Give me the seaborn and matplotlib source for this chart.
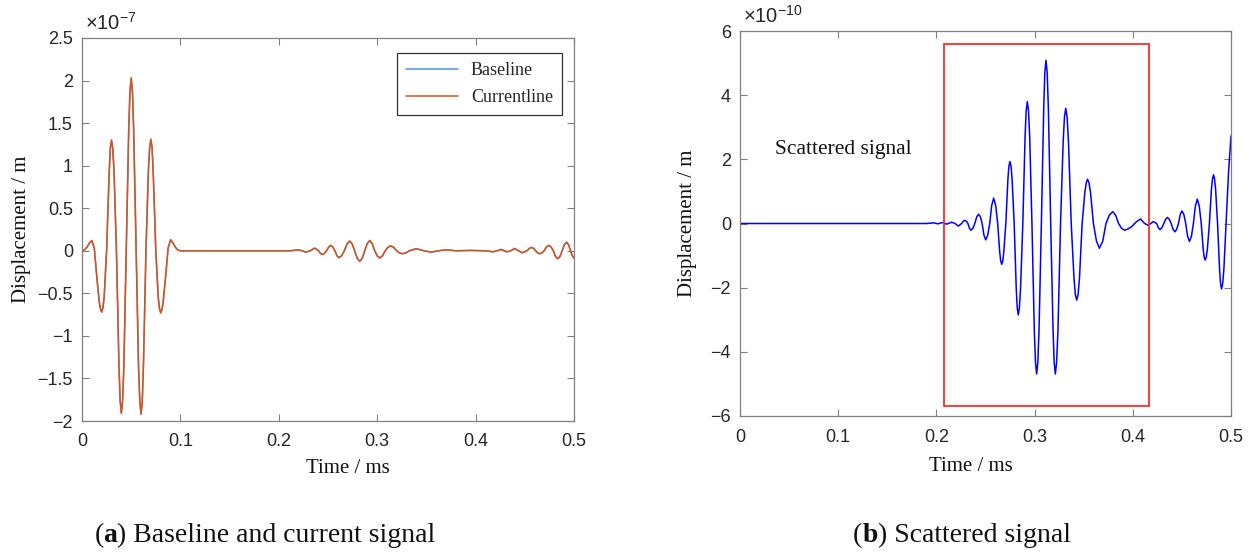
import matplotlib
matplotlib.use("Agg")
import matplotlib.pyplot as plt
import numpy as np
import pandas as pd
import seaborn as sns
from matplotlib.patches import Rectangle
from matplotlib.ticker import FuncFormatter, MultipleLocator

# ---------------------------------------------------------------------------
# Panel (a): (time [ms], baseline, currentline), displacement in 1e-7 m
# ---------------------------------------------------------------------------
signal_a = [
    # excitation tone burst
    (0.0000, 0.00, 0.00), (0.0025, 0.01, 0.01), (0.0050, 0.04, 0.04),
    (0.0075, 0.09, 0.09), (0.0100, 0.12, 0.12), (0.0125, 0.03, 0.03),
    (0.0150, -0.30, -0.30), (0.0175, -0.60, -0.60), (0.01875, -0.68, -0.68),
    (0.0200, -0.72, -0.72), (0.02125, -0.67, -0.67), (0.0225, -0.55, -0.55),
    (0.0250, 0.00, 0.00), (0.0275, 0.88, 0.88), (0.02875, 1.20, 1.20),
    (0.0300, 1.30, 1.30), (0.03125, 1.20, 1.20), (0.0325, 0.95, 0.95),
    (0.0350, 0.00, 0.00), (0.0375, -1.32, -1.32), (0.03875, -1.76, -1.76),
    (0.0400, -1.91, -1.91), (0.04125, -1.76, -1.76), (0.0425, -1.38, -1.38),
    (0.0450, 0.00, 0.00), (0.0475, 1.43, 1.43), (0.04875, 1.87, 1.87),
    (0.0500, 2.03, 2.03), (0.05125, 1.87, 1.87), (0.0525, 1.43, 1.43),
    (0.0550, 0.00, 0.00), (0.0575, -1.38, -1.38), (0.05875, -1.77, -1.77),
    (0.0600, -1.92, -1.92), (0.06125, -1.77, -1.77), (0.0625, -1.32, -1.32),
    (0.0650, 0.00, 0.00), (0.0675, 0.95, 0.95), (0.06875, 1.21, 1.21),
    (0.0700, 1.31, 1.31), (0.07125, 1.21, 1.21), (0.0725, 0.88, 0.88),
    (0.0750, 0.00, 0.00), (0.0775, -0.55, -0.55), (0.07875, -0.68, -0.68),
    (0.0800, -0.73, -0.73), (0.08125, -0.69, -0.69), (0.0825, -0.60, -0.60),
    (0.0850, -0.30, -0.30), (0.0875, 0.03, 0.03), (0.0900, 0.13, 0.13),
    (0.0925, 0.09, 0.09), (0.0950, 0.04, 0.04), (0.0975, 0.01, 0.01),
    (0.1000, 0.00, 0.00),
    # quiet interval and boundary reflections
    (0.2000, 0.000, 0.000), (0.2120, 0.000, 0.000), (0.2196, 0.012, 0.012),
    (0.2235, 0.000, 0.000), (0.2274, -0.016, -0.016), (0.2320, 0.000, 0.000),
    (0.2365, 0.031, 0.031), (0.2404, 0.000, 0.000), (0.2424, -0.030, -0.030),
    (0.2443, -0.043, -0.043), (0.2464, -0.030, -0.030), (0.2485, 0.000, 0.000),
    (0.2507, 0.044, 0.044), (0.2528, 0.063, 0.063), (0.2549, 0.044, 0.044),
    (0.2570, 0.000, 0.000), (0.2591, -0.058, -0.058), (0.2612, -0.082, -0.082),
    (0.2639, -0.058, -0.058), (0.2666, 0.000, 0.000), (0.2694, 0.080, 0.080),
    (0.2721, 0.114, 0.114), (0.2746, 0.080, 0.080), (0.2771, 0.000, 0.000),
    (0.2797, -0.088, -0.088), (0.2822, -0.125, -0.125), (0.2848, -0.088, -0.088),
    (0.2873, 0.000, 0.000), (0.2899, 0.083, 0.086), (0.2924, 0.118, 0.122),
    (0.2949, 0.083, 0.086), (0.2975, 0.000, 0.000), (0.3000, -0.058, -0.061),
    (0.3025, -0.082, -0.086), (0.3053, -0.058, -0.061), (0.3081, 0.000, 0.000),
    (0.3109, 0.039, 0.042), (0.3137, 0.055, 0.059), (0.3167, 0.039, 0.042),
    (0.3197, 0.000, 0.000), (0.3226, -0.025, -0.025), (0.3256, -0.035, -0.035),
    (0.3291, -0.025, -0.025), (0.3327, 0.000, 0.000), (0.3398, 0.024, 0.024),
    (0.3474, 0.000, 0.000), (0.3550, -0.016, -0.016), (0.3626, 0.000, 0.000),
    (0.3702, 0.012, 0.012), (0.3800, 0.000, 0.000), (0.3950, 0.004, 0.004),
    (0.4100, 0.000, 0.000), (0.4176, -0.012, -0.012), (0.4218, 0.000, 0.000),
    (0.4260, 0.016, 0.016), (0.4290, 0.000, 0.000), (0.4318, -0.012, -0.012),
    (0.4357, 0.000, 0.000), (0.4396, 0.027, 0.027), (0.4435, 0.000, 0.000),
    (0.4474, -0.024, -0.024), (0.4522, 0.000, 0.000), (0.4546, 0.028, 0.028),
    (0.4570, 0.040, 0.040), (0.4590, 0.028, 0.028), (0.4610, 0.000, 0.000),
    (0.4630, -0.025, -0.025), (0.4650, -0.035, -0.035), (0.4674, -0.025, -0.025),
    (0.4697, 0.000, 0.000), (0.4720, 0.045, 0.045), (0.4744, 0.063, 0.063),
    (0.4767, 0.045, 0.045), (0.4790, 0.000, 0.000), (0.4812, -0.067, -0.067),
    (0.4835, -0.094, -0.094), (0.4858, -0.067, -0.067), (0.4880, 0.000, 0.000),
    (0.4902, 0.071, 0.071), (0.4925, 0.100, 0.100), (0.4945, 0.071, 0.071),
    (0.4965, 0.000, 0.000), (0.4983, -0.060, -0.060), (0.5000, -0.085, -0.085),
]

# ---------------------------------------------------------------------------
# Panel (b): (time [ms], scattered displacement in 1e-10 m)
# ---------------------------------------------------------------------------
signal_b = [
    (0.0000, 0.00), (0.1900, 0.00), (0.1975, 0.02), (0.2015, -0.01),
    (0.2060, 0.03), (0.2105, -0.02), (0.2155, 0.04), (0.2190, 0.00),
    (0.2223, -0.08), (0.2257, 0.00), (0.2273, 0.07), (0.2290, 0.10),
    (0.2306, 0.07), (0.2321, 0.00), (0.2337, -0.15), (0.2352, -0.21),
    (0.2372, -0.15), (0.2391, 0.00), (0.2411, 0.21), (0.2430, 0.29),
    (0.2448, 0.21), (0.2466, 0.00), (0.2484, -0.36), (0.2502, -0.51),
    (0.2523, -0.36), (0.2543, 0.00), (0.2563, 0.56), (0.2583, 0.79),
    (0.2604, 0.56), (0.2624, 0.00), (0.2645, -0.90), (0.2655, -1.17),
    (0.2665, -1.27), (0.2676, -1.17), (0.2686, -0.90), (0.2707, 0.00),
    (0.2728, 1.37), (0.2738, 1.78), (0.2749, 1.93), (0.2760, 1.78),
    (0.2771, 1.37), (0.2792, 0.00), (0.2813, -2.02), (0.2823, -2.63),
    (0.2834, -2.85), (0.2845, -2.63), (0.2857, -2.02), (0.2880, 0.00),
    (0.2903, 2.70), (0.2914, 3.51), (0.2926, 3.80), (0.2938, 3.51),
    (0.2950, 2.70), (0.2973, 0.00), (0.2997, -3.33), (0.3009, -4.33),
    (0.3021, -4.69), (0.3033, -4.33), (0.3045, -3.33), (0.3069, 0.00),
    (0.3093, 3.61), (0.3104, 4.70), (0.3116, 5.09), (0.3128, 4.70),
    (0.3140, 3.61), (0.3164, 0.00), (0.3188, -3.33), (0.3199, -4.33),
    (0.3211, -4.69), (0.3224, -4.33), (0.3238, -3.33), (0.3264, 0.00),
    (0.3291, 2.55), (0.3304, 3.32), (0.3317, 3.59), (0.3331, 3.32),
    (0.3345, 2.55), (0.3373, 0.00), (0.3401, -1.70), (0.3415, -2.21),
    (0.3429, -2.39), (0.3443, -2.21), (0.3457, -1.70), (0.3484, 0.00),
    (0.3512, 0.98), (0.3526, 1.27), (0.3539, 1.38), (0.3554, 1.27),
    (0.3569, 0.98), (0.3599, 0.00), (0.3630, -0.55), (0.3660, -0.77),
    (0.3694, -0.55), (0.3727, 0.00), (0.3761, 0.26), (0.3795, 0.37),
    (0.3825, 0.26), (0.3855, 0.00), (0.3886, -0.15), (0.3916, -0.21),
    (0.3950, -0.17), (0.3988, -0.10), (0.4035, 0.05), (0.4080, 0.14),
    (0.4120, 0.00), (0.4158, -0.06), (0.4182, 0.00), (0.4210, 0.06),
    (0.4243, 0.00), (0.4260, -0.13), (0.4277, -0.19), (0.4297, -0.13),
    (0.4316, 0.00), (0.4334, 0.13), (0.4352, 0.19), (0.4372, 0.13),
    (0.4391, 0.00), (0.4410, -0.18), (0.4429, -0.26), (0.4447, -0.18),
    (0.4465, 0.00), (0.4483, 0.28), (0.4501, 0.39), (0.4520, 0.28),
    (0.4539, 0.00), (0.4558, -0.40), (0.4577, -0.56), (0.4597, -0.40),
    (0.4617, 0.00), (0.4637, 0.54), (0.4657, 0.76), (0.4677, 0.54),
    (0.4697, 0.00), (0.4717, -0.81), (0.4727, -1.05), (0.4737, -1.14),
    (0.4748, -1.05), (0.4759, -0.81), (0.4780, 0.00), (0.4801, 1.08),
    (0.4812, 1.40), (0.4822, 1.52), (0.4832, 1.40), (0.4843, 1.08),
    (0.4863, 0.00), (0.4884, -1.45), (0.4894, -1.88), (0.4904, -2.04),
    (0.4915, -1.88), (0.4927, -1.45), (0.4950, 0.00), (0.4975, 1.60),
    (0.5000, 2.73),
]

series_names = ["Baseline", "Currentline"]
panel_captions = ["Baseline and current signal", "Scattered signal"]

# ---------------------------------------------------------------------------
# Styling
# ---------------------------------------------------------------------------
sns.set_theme(style="ticks")
SANS = ["Liberation Sans", "DejaVu Sans"]
SERIF = ["Liberation Serif", "DejaVu Serif"]
plt.rcParams.update({
    "font.family": SANS,
    "mathtext.fontset": "custom",
    "mathtext.rm": "Liberation Sans",
    "mathtext.it": "Liberation Sans:italic",
    "mathtext.bf": "Liberation Sans:bold",
    "axes.edgecolor": "#808080",
    "axes.linewidth": 0.9,
    "xtick.direction": "in",
    "ytick.direction": "in",
    "xtick.color": "#808080",
    "ytick.color": "#808080",
    "xtick.labelcolor": "#262626",
    "ytick.labelcolor": "#262626",
    "xtick.major.size": 5,
    "ytick.major.size": 5,
    "xtick.major.width": 0.8,
    "ytick.major.width": 0.8,
    "xtick.labelsize": 13,
    "ytick.labelsize": 13,
})

W, H = 1254, 552
fig = plt.figure(figsize=(W / 100, H / 100), dpi=100)
fig.patch.set_facecolor("white")


def box(l, t, r, b):
    return [l / W, 1 - b / H, (r - l) / W, (b - t) / H]


ax_a = fig.add_axes(box(82, 38, 574, 421))
ax_b = fig.add_axes(box(740, 31, 1231, 416))


def tick_fmt(v, pos):
    if abs(v) < 1e-12:
        return "0"
    return f"{v:g}".replace("-", "\u2212")


def style_axes(ax, ystep, exponent):
    ax.xaxis.set_major_locator(MultipleLocator(0.1))
    ax.yaxis.set_major_locator(MultipleLocator(ystep))
    ax.xaxis.set_major_formatter(FuncFormatter(tick_fmt))
    ax.yaxis.set_major_formatter(FuncFormatter(tick_fmt))
    ax.tick_params(top=True, right=True)
    ax.tick_params(axis="x", pad=9)
    ax.tick_params(axis="y", pad=6.5)
    for s in ax.spines.values():
        s.set_visible(True)
    ax.set_xlabel("Time / ms", family=SERIF, fontsize=15, color="#111111")
    ax.set_ylabel("Displacement / m", family=SERIF, fontsize=15, color="#111111")
    ax.text(0.006, 1.012, r"$\times\mathregular{10^{" + exponent + "}}$",
            transform=ax.transAxes, ha="left", va="bottom",
            fontsize=14.5, color="#262626")


# Panel (a)
df_a = pd.DataFrame(signal_a, columns=["Time", *series_names])
df_a = df_a.melt(id_vars="Time", var_name="Signal", value_name="Displacement")
sns.lineplot(data=df_a, x="Time", y="Displacement", hue="Signal",
             hue_order=series_names,
             palette={series_names[0]: "#4d94db", series_names[1]: "#d95319"},
             estimator=None, sort=False, linewidth=1.1, ax=ax_a)
ax_a.set_xlim(0, 0.5)
ax_a.set_ylim(-2, 2.5)
style_axes(ax_a, 0.5, "-7")
handles, labels = ax_a.get_legend_handles_labels()
leg = ax_a.legend(handles, labels, loc="upper right",
                  bbox_to_anchor=(0.9756, 0.961), borderaxespad=0,
                  prop={"family": SERIF, "size": 13}, frameon=True,
                  fancybox=False, edgecolor="#333333", framealpha=1,
                  borderpad=0.5, handlelength=2.9, handletextpad=0.7,
                  labelspacing=0.55)
leg.get_frame().set_linewidth(0.9)
for h in leg.get_lines():
    h.set_linewidth(1.1)

# Panel (b)
df_b = pd.DataFrame(signal_b, columns=["Time", "Displacement"])
sns.lineplot(data=df_b, x="Time", y="Displacement", color="#0000ff",
             estimator=None, sort=False, linewidth=1.1, ax=ax_b)
ax_b.set_xlim(0, 0.5)
ax_b.set_ylim(-6, 6)
style_axes(ax_b, 2, "-10")
ax_b.add_patch(Rectangle((0.2077, -5.69), 0.4165 - 0.2077, 5.59 + 5.69,
                         fill=False, edgecolor="#ff2a2a", linewidth=1.3,
                         zorder=3))
ax_b.text(0.036, 2.32, "Scattered signal", family=SERIF, fontsize=15.5,
          ha="left", va="center", color="#111111")

ax_a.yaxis.set_label_coords(-0.104, 0.5)
ax_b.yaxis.set_label_coords(-0.088, 0.5)
ax_a.xaxis.set_label_coords(0.54, -0.1)
ax_b.xaxis.set_label_coords(0.470, -0.107)


# Sub-figure captions: "(a) ..." with a bold letter, centred on a given x
def caption(xc_px, y_px, letter, text):
    y = 1 - y_px / H
    kw = dict(family=SERIF, fontsize=20, va="baseline", ha="left",
              color="#111111")
    t1 = fig.text(0, y, "(", **kw)
    t2 = ax_a.annotate(letter, xy=(1, y), xycoords=(t1, "figure fraction"),
                       weight="bold", annotation_clip=False, **kw)
    t3 = ax_a.annotate(") " + text, xy=(1, y), xycoords=(t2, "figure fraction"),
                       annotation_clip=False, **kw)
    fig.canvas.draw()
    r = fig.canvas.get_renderer()
    x0 = t1.get_window_extent(r).x0
    x1 = t3.get_window_extent(r).x1
    t1.set_x((xc_px - (x1 - x0) / 2) / W)


caption(265, 542, "a", panel_captions[0])
caption(962, 542, "b", panel_captions[1])

fig.savefig("out.png", dpi=100, facecolor="white")
